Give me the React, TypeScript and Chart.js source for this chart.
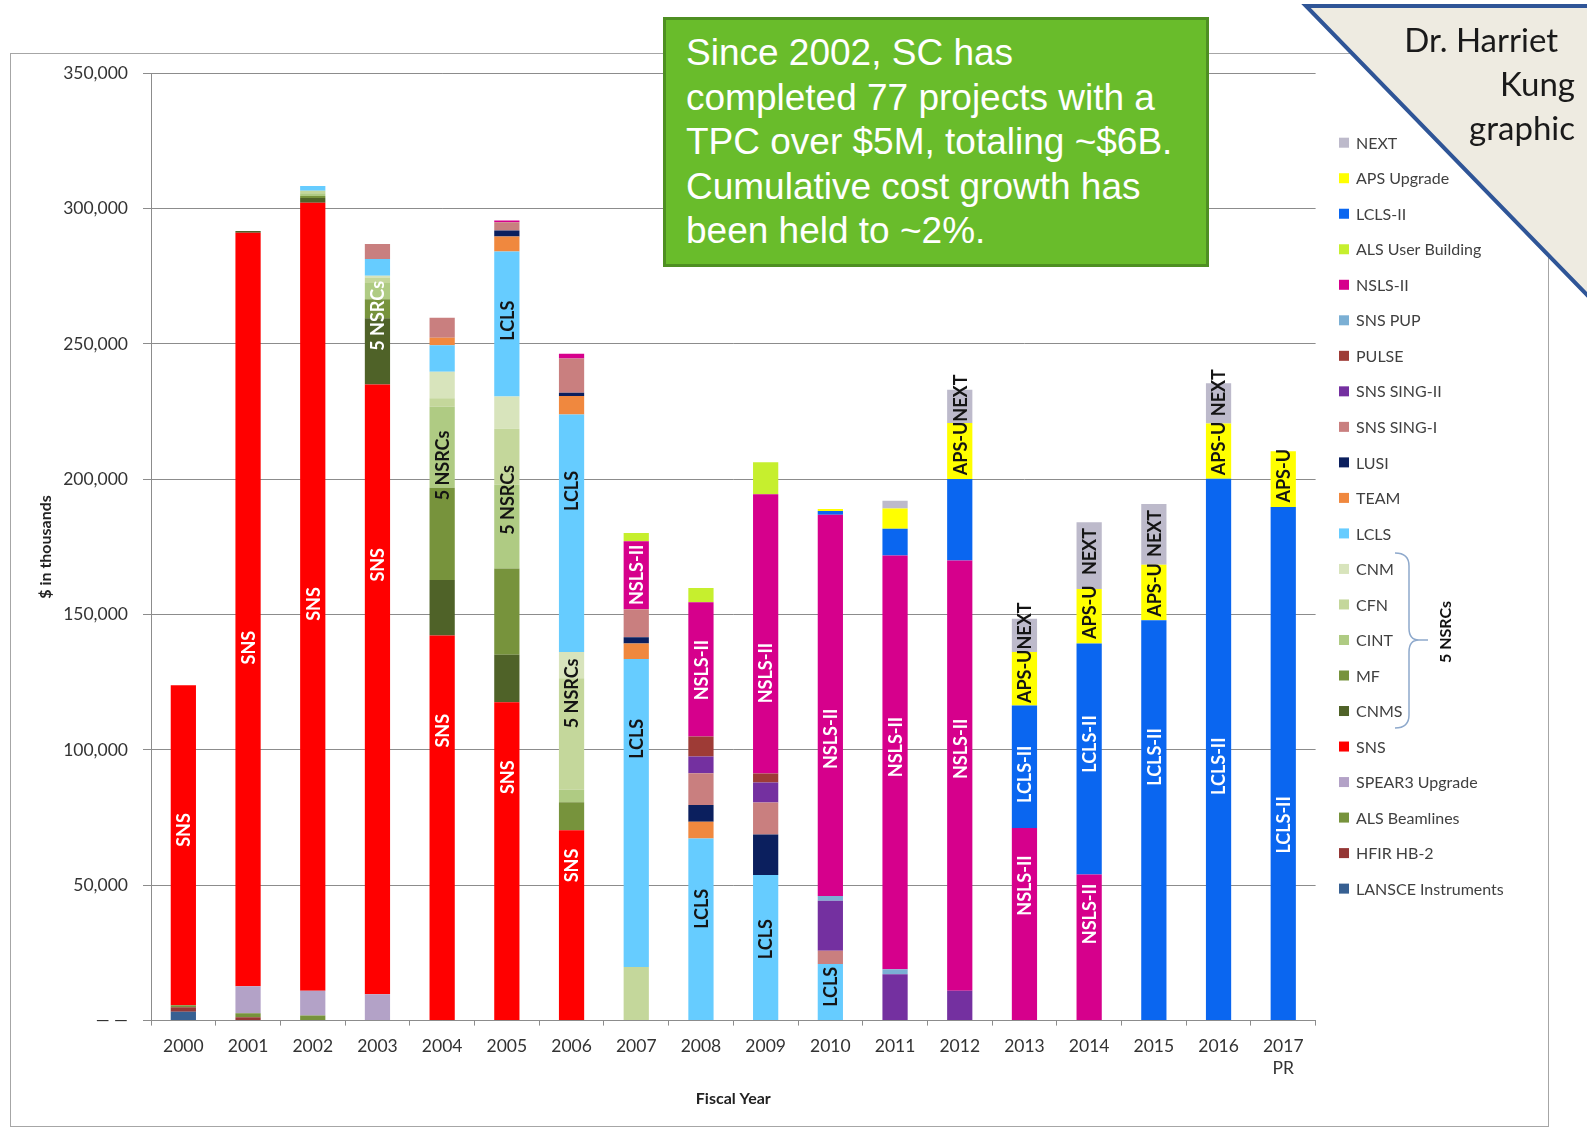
import React, { useEffect, useRef } from "react";
import { Chart, registerables } from "chart.js";

Chart.register(...registerables);

const years: (string | string[])[] = [
  "2000", "2001", "2002", "2003", "2004", "2005", "2006", "2007", "2008",
  "2009", "2010", "2011", "2012", "2013", "2014", "2015", "2016", ["2017", "PR"],
];

// Series, in stacking order (bottom -> top). Values in $ thousands.
const lansce = [3300, 0, 0, 0, 0, 0, 0, 0, 0, 0, 0, 0, 0, 0, 0, 0, 0, 0];
const hfirHb2 = [1600, 1200, 0, 0, 0, 0, 0, 0, 0, 0, 0, 0, 0, 0, 0, 0, 0, 0];
const alsBeamlines = [800, 1500, 1850, 0, 0, 0, 0, 0, 0, 0, 0, 0, 0, 0, 0, 0, 0, 0];
const spear3 = [0, 10000, 9200, 9700, 0, 0, 0, 0, 0, 0, 0, 0, 0, 0, 0, 0, 0, 0];
const sns = [118200, 278400, 291150, 225300, 142300, 117600, 70350, 0, 0, 0, 0, 0, 0, 0, 0, 0, 0, 0];
const cnms = [0, 600, 1700, 24500, 20500, 17600, 0, 0, 0, 0, 0, 0, 0, 0, 0, 0, 0, 0];
const mf = [0, 0, 750, 7000, 34100, 31800, 10300, 0, 0, 0, 0, 0, 0, 0, 0, 0, 0, 0];
const cint = [0, 0, 1000, 6000, 29900, 31000, 4600, 0, 0, 0, 0, 0, 0, 0, 0, 0, 0, 0];
const cfn = [0, 0, 1000, 2100, 3100, 20700, 41200, 19800, 0, 0, 0, 0, 0, 0, 0, 0, 0, 0];
const cnm = [0, 0, 0, 600, 9800, 11900, 9700, 0, 0, 0, 0, 0, 0, 0, 0, 0, 0, 0];
const lcls = [0, 0, 1700, 6200, 9800, 53600, 87800, 113800, 67300, 53800, 20900, 0, 0, 0, 0, 0, 0, 0];
const team = [0, 0, 0, 0, 2800, 5500, 6800, 5700, 6200, 0, 0, 0, 0, 0, 0, 0, 0, 0];
const lusi = [0, 0, 0, 0, 0, 2200, 1200, 2300, 6200, 15000, 0, 0, 0, 0, 0, 0, 0, 0];
const snsSingI = [0, 0, 0, 5500, 7400, 3100, 12700, 10400, 11700, 11800, 4900, 0, 0, 0, 0, 0, 0, 0];
const snsSingII = [0, 0, 0, 0, 0, 0, 0, 0, 6200, 7400, 18500, 17100, 11000, 0, 0, 0, 0, 0];
const pulse = [0, 0, 0, 0, 0, 0, 0, 0, 7400, 3300, 0, 0, 0, 0, 0, 0, 0, 0];
const snsPup = [0, 0, 0, 0, 0, 0, 0, 0, 0, 0, 1700, 1850, 0, 0, 0, 0, 0, 0];
const nslsII = [0, 0, 0, 0, 0, 600, 1700, 25100, 49600, 103200, 140900, 152900, 159000, 71200, 54000, 0, 0, 0];
const alsUserBuilding = [0, 0, 0, 0, 0, 0, 0, 3100, 5200, 11800, 0, 0, 0, 0, 0, 0, 0, 0];
const lclsII = [0, 0, 0, 0, 0, 0, 0, 0, 0, 0, 1400, 9850, 30100, 45200, 85300, 147900, 200200, 189800];
const apsUpgrade = [0, 0, 0, 0, 0, 0, 0, 0, 0, 0, 700, 7500, 20700, 19800, 20200, 20500, 20400, 20600];
const nextSeries = [0, 0, 0, 0, 0, 0, 0, 0, 0, 0, 0, 2900, 12300, 12300, 24600, 22500, 14900, 0];

const seriesNames = [
  "LANSCE Instruments", "HFIR HB-2", "ALS Beamlines", "SPEAR3 Upgrade", "SNS",
  "CNMS", "MF", "CINT", "CFN", "CNM", "LCLS", "TEAM", "LUSI", "SNS SING-I",
  "SNS SING-II", "PULSE", "SNS PUP", "NSLS-II", "ALS User Building", "LCLS-II",
  "APS Upgrade", "NEXT",
];
const seriesValues = [
  lansce, hfirHb2, alsBeamlines, spear3, sns, cnms, mf, cint, cfn, cnm, lcls,
  team, lusi, snsSingI, snsSingII, pulse, snsPup, nslsII, alsUserBuilding,
  lclsII, apsUpgrade, nextSeries,
];
const seriesColors = [
  "#376092", "#953735", "#77933C", "#B3A2C7", "#FF0000",
  "#4F6228", "#77933C", "#AFCB83", "#C4D79B", "#D8E4BC", "#66CCFF", "#F0883E",
  "#0B1F5E", "#C97F7F", "#7430A0", "#9E3B36", "#7BAFD4", "#D6008C", "#C6EF2E",
  "#0A66F0", "#FFFF00", "#BDBACB",
];

// In-bar labels: category index, text, value (centre, $K), colour
const labelYearIdx = [0, 1, 2, 3, 3, 4, 4, 5, 5, 5, 6, 6, 6, 7, 7, 8, 8, 9, 9, 10, 10, 11, 12, 12, 13, 13, 13, 14, 14, 14, 14, 15, 15, 15, 16, 16, 16, 17, 17];
const labelTexts = [
  "SNS", "SNS", "SNS", "SNS", "5 NSRCs", "SNS", "5 NSRCs", "SNS", "5 NSRCs", "LCLS",
  "SNS", "5 NSRCs", "LCLS", "LCLS", "NSLS-II", "LCLS", "NSLS-II", "LCLS", "NSLS-II",
  "LCLS", "NSLS-II", "NSLS-II", "NSLS-II", "APS-UNEXT", "NSLS-II", "LCLS-II", "APS-UNEXT",
  "NSLS-II", "LCLS-II", "APS-U", "NEXT", "LCLS-II", "APS-U", "NEXT", "LCLS-II", "APS-U",
  "NEXT", "LCLS-II", "APS-U",
];
const labelValues = [
  70400, 137800, 153900, 168400, 260400, 107100, 205100, 89900, 192400, 258600,
  57300, 120900, 195700, 104100, 164700, 41300, 129500, 30100, 128400,
  12500, 104100, 101100, 100400, 220100, 49900, 91000, 135900,
  39400, 102200, 150900, 173300, 97400, 159100, 180000, 94000, 211400,
  232000, 72300, 201300,
];
const W = "#FFFFFF";
const D = "#141414";
const labelColors = [
  W, W, W, W, W, W, D, W, D, D,
  W, D, D, D, W, D, W, D, W,
  D, W, W, W, D, W, W, D,
  W, W, D, D, W, D, D, W, D,
  D, W, D,
];

const barLabelsPlugin = {
  id: "barLabels",
  afterDatasetsDraw(chart: any) {
    const { ctx } = chart;
    const x = chart.scales.x;
    const y = chart.scales.y;
    ctx.save();
    ctx.font = "bold 18px Lato";
    ctx.textAlign = "center";
    ctx.textBaseline = "middle";
    for (let i = 0; i < labelTexts.length; i++) {
      const px = x.getPixelForValue(labelYearIdx[i]);
      const py = y.getPixelForValue(labelValues[i]);
      ctx.save();
      ctx.translate(px, py);
      ctx.rotate(-Math.PI / 2);
      ctx.fillStyle = labelColors[i];
      ctx.fillText(labelTexts[i], 0, 1);
      ctx.restore();
    }
    ctx.restore();
  },
};

const sideLegendPlugin = {
  id: "sideLegend",
  afterDraw(chart: any) {
    const { ctx } = chart;
    const ds = chart.data.datasets;
    ctx.save();
    ctx.font = "16px Lato";
    ctx.textBaseline = "middle";
    ctx.textAlign = "left";
    for (let k = 0; k < ds.length; k++) {
      const d = ds[ds.length - 1 - k];
      const cy = 142.7 + k * 35.52;
      ctx.fillStyle = d.backgroundColor;
      ctx.fillRect(1339, cy - 5, 10, 10);
      ctx.fillStyle = "#404040";
      ctx.fillText(d.label, 1356, cy + 1);
    }
    // brace for the 5 NSRCs
    ctx.strokeStyle = "#8EA9CC";
    ctx.lineWidth = 1.5;
    ctx.beginPath();
    ctx.moveTo(1395, 553);
    ctx.quadraticCurveTo(1409, 553, 1409, 566);
    ctx.lineTo(1409, 628);
    ctx.quadraticCurveTo(1409, 640, 1419, 640);
    ctx.lineTo(1428, 640);
    ctx.moveTo(1419, 640);
    ctx.quadraticCurveTo(1409, 640, 1409, 652);
    ctx.lineTo(1409, 715);
    ctx.quadraticCurveTo(1409, 728, 1395, 728);
    ctx.stroke();
    ctx.save();
    ctx.translate(1446, 632);
    ctx.rotate(-Math.PI / 2);
    ctx.textAlign = "center";
    ctx.font = "bold 16px Lato";
    ctx.fillStyle = "#111111";
    ctx.fillText("5 NSRCs", 0, 0);
    ctx.restore();
    ctx.restore();
  },
};

export default function App() {
  const canvasRef = useRef<HTMLCanvasElement | null>(null);

  useEffect(() => {
    const canvas = canvasRef.current;
    if (!canvas) return;
    const chart = new Chart(canvas, {
      type: "bar",
      data: {
        labels: years as any,
        datasets: seriesNames.map((name, i) => ({
          label: name,
          data: seriesValues[i],
          backgroundColor: seriesColors[i],
          borderWidth: 0,
          categoryPercentage: 1,
          barPercentage: 0.39,
        })),
      },
      options: {
        responsive: false,
        animation: false,
        events: [],
        layout: { padding: { left: 30, top: 73.3, right: 271.4, bottom: 10.4 } },
        plugins: {
          legend: { display: false },
          tooltip: { enabled: false },
          title: { display: false },
        },
        scales: {
          x: {
            stacked: true,
            afterFit: (s: any) => { s.height = 100; },
            grid: {
              display: true,
              drawOnChartArea: false,
              drawTicks: true,
              tickLength: 5,
              color: "#8C8C8C",
            },
            border: { display: true, color: "#8C8C8C", width: 1 },
            ticks: {
              autoSkip: false,
              maxRotation: 0,
              minRotation: 0,
              padding: 9,
              color: "#333333",
              font: { family: "Lato", size: 17.5, lineHeight: 1.3 },
            },
            title: {
              display: true,
              text: "Fiscal Year",
              color: "#222222",
              font: { family: "Lato", size: 16, weight: "bold" },
              padding: { top: 0, bottom: 12 },
            },
          },
          y: {
            stacked: true,
            min: 0,
            max: 350000,
            afterFit: (s: any) => { s.width = 121; },
            grid: {
              color: "#8C8C8C",
              lineWidth: 1,
              drawTicks: true,
              tickLength: 8,
            },
            border: { display: true, color: "#8C8C8C", width: 1 },
            ticks: {
              stepSize: 50000,
              padding: 15,
              color: "#333333",
              font: { family: "Lato", size: 17.5 },
              callback: (v: any) => (Number(v) === 0 ? "— —" : Number(v).toLocaleString("en-US")),
            },
            title: {
              display: true,
              text: "$ in thousands",
              color: "#222222",
              font: { family: "Lato", size: 16, weight: "bold" },
              padding: { top: 6, bottom: 0 },
            },
          },
        },
      },
      plugins: [barLabelsPlugin, sideLegendPlugin],
    } as any);
    return () => chart.destroy();
  }, []);

  return (
    <div style={{ position: "absolute", left: 0, top: 0, width: 1587, height: 1131, overflow: "hidden", background: "#FFFFFF" }}>
      <div style={{ position: "absolute", left: 10, top: 53, width: 1539, height: 1074, border: "1px solid #A6A6A6", boxSizing: "border-box" }} />
      <canvas ref={canvasRef} width={1587} height={1131} style={{ position: "absolute", left: 0, top: 0, width: 1587, height: 1131 }} />
      <svg width={1587} height={320} style={{ position: "absolute", left: 0, top: 0 }}>
        <polygon points="1306,6 1590,6 1590,298" fill="#EEEBE1" />
        <polyline points="1590,6 1306,6 1590,298" fill="none" stroke="#2F5597" strokeWidth={4} />
      </svg>
      <div style={{ position: "absolute", right: 12, top: 17, textAlign: "right", fontFamily: "Lato", fontSize: 33, lineHeight: "44px", color: "#1A1A1A", whiteSpace: "pre" }}>
        {"Dr. Harriet\u00A0\u00A0"}<br />Kung<br />graphic
      </div>
      <div
        style={{
          position: "absolute", left: 663, top: 17, width: 546, height: 250, boxSizing: "border-box",
          background: "#69BC2B", border: "3px solid #4E8F22", color: "#FFFFFF",
          fontFamily: "'Liberation Sans', Arial, sans-serif", fontSize: 37, lineHeight: "44.5px",
          padding: "11px 4px 0 20px", whiteSpace: "nowrap",
        }}
      >
        Since 2002, SC has<br />completed 77 projects with a<br />TPC over $5M, totaling ~$6B.<br />Cumulative cost growth has<br />been held to ~2%.
      </div>
    </div>
  );
}
